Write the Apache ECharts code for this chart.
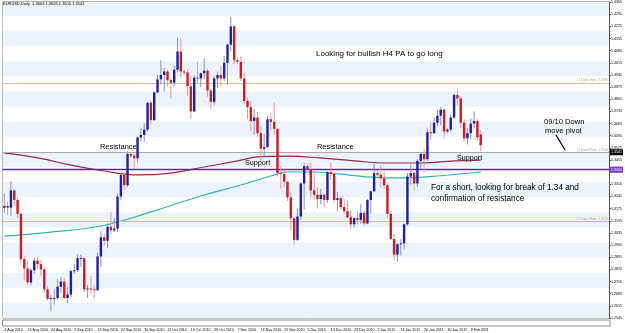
<!DOCTYPE html>
<html><head><meta charset="utf-8">
<script src="https://cdn.jsdelivr.net/npm/echarts@6/dist/echarts.min.js"></script>
<style>html,body{margin:0;padding:0;background:#fff;}#c{width:625px;height:333px;}</style>
</head><body><div id="c"></div>
<script>
// ---- data ----
const dateLabels = ['4 Aug 2010','13 Aug 2010','24 Aug 2010','2 Sep 2010','13 Sep 2010','22 Sep 2010','30 Sep 2010','11 Oct 2010','19 Oct 2010','28 Oct 2010','7 Nov 2010','16 Nov 2010','25 Nov 2010','5 Dec 2010','14 Dec 2010','23 Dec 2010','2 Jan 2011','11 Jan 2011','20 Jan 2011','30 Jan 2011','8 Feb 2011'];
const labelStep = 7;
const priceTicks = [1.2545,1.2615,1.2685,1.2755,1.2825,1.2895,1.2965,1.3035,1.3105,1.3175,1.3245,1.3315,1.3385,1.3455,1.3525,1.3595,1.3665,1.3735,1.3805,1.3875,1.3945,1.4015,1.4085,1.4155,1.4225,1.4295,1.4365];
const open  = [1.3180,1.3190,1.3180,1.3280,1.3225,1.3145,1.2885,1.2830,1.2750,1.2820,1.2875,1.2855,1.2825,1.2710,1.2655,1.2660,1.2660,1.2725,1.2755,1.2660,1.2680,1.2815,1.2820,1.2890,1.2890,1.2710,1.2715,1.2710,1.2705,1.2900,1.3010,1.2990,1.3070,1.3050,1.3060,1.3245,1.3370,1.3310,1.3490,1.3480,1.3465,1.3585,1.3600,1.3630,1.3785,1.3685,1.3845,1.3920,1.3945,1.3965,1.3915,1.3900,1.3975,1.4080,1.3965,1.3960,1.3880,1.3735,1.3930,1.3925,1.3955,1.3970,1.3855,1.3790,1.3925,1.3945,1.3925,1.4015,1.4120,1.4225,1.4030,1.4020,1.3925,1.3795,1.3760,1.3680,1.3700,1.3610,1.3520,1.3530,1.3690,1.3675,1.3635,1.3380,1.3375,1.3330,1.3240,1.3120,1.2995,1.3130,1.3320,1.3420,1.3400,1.3280,1.3255,1.3230,1.3255,1.3225,1.3385,1.3375,1.3225,1.3235,1.3185,1.3160,1.3125,1.3085,1.3120,1.3110,1.3150,1.3090,1.3225,1.3275,1.3380,1.3370,1.3350,1.3310,1.3145,1.3000,1.2910,1.2970,1.2975,1.3085,1.3360,1.3380,1.3320,1.3450,1.3490,1.3460,1.3615,1.3610,1.3670,1.3710,1.3745,1.3620,1.3630,1.3700,1.3830,1.3810,1.3670,1.3580,1.3610,1.3665,1.3680,1.3603];
const high  = [1.3260,1.3215,1.3333,1.3290,1.3240,1.3150,1.2905,1.2880,1.2830,1.2890,1.2895,1.2880,1.2840,1.2730,1.2680,1.2715,1.2770,1.2780,1.2775,1.2725,1.2825,1.2855,1.2910,1.2910,1.2890,1.2735,1.2790,1.2730,1.2920,1.3045,1.3030,1.3090,1.3155,1.3120,1.3260,1.3380,1.3385,1.3505,1.3500,1.3495,1.3590,1.3640,1.3665,1.3790,1.3795,1.3850,1.3945,1.4030,1.3985,1.3975,1.3925,1.4000,1.4160,1.4155,1.3975,1.3975,1.3940,1.3945,1.4020,1.3960,1.4040,1.3980,1.3865,1.3940,1.3965,1.4000,1.4055,1.4125,1.4281,1.4230,1.4045,1.4050,1.3960,1.3815,1.3795,1.3750,1.3730,1.3650,1.3605,1.3710,1.3725,1.3785,1.3640,1.3420,1.3400,1.3330,1.3270,1.3130,1.3175,1.3330,1.3440,1.3430,1.3440,1.3395,1.3300,1.3290,1.3260,1.3390,1.3440,1.3385,1.3270,1.3245,1.3230,1.3225,1.3165,1.3125,1.3160,1.3200,1.3165,1.3230,1.3280,1.3435,1.3395,1.3425,1.3390,1.3320,1.3160,1.3030,1.2975,1.3000,1.3090,1.3380,1.3430,1.3385,1.3460,1.3500,1.3520,1.3635,1.3670,1.3700,1.3745,1.3760,1.3755,1.3640,1.3715,1.3840,1.3862,1.3820,1.3690,1.3640,1.3695,1.3735,1.3690,1.3626];
const low   = [1.3150,1.3140,1.3130,1.3190,1.3120,1.2860,1.2760,1.2735,1.2735,1.2800,1.2830,1.2790,1.2690,1.2645,1.2588,1.2623,1.2650,1.2690,1.2655,1.2630,1.2665,1.2800,1.2810,1.2840,1.2695,1.2660,1.2685,1.2660,1.2700,1.2840,1.2960,1.2950,1.3030,1.3040,1.3040,1.3225,1.3285,1.3300,1.3470,1.3405,1.3440,1.3560,1.3560,1.3620,1.3660,1.3680,1.3840,1.3890,1.3850,1.3880,1.3810,1.3880,1.3960,1.3930,1.3945,1.3825,1.3695,1.3730,1.3900,1.3875,1.3920,1.3820,1.3745,1.3770,1.3870,1.3880,1.3910,1.3890,1.4080,1.4005,1.4010,1.3910,1.3775,1.3690,1.3620,1.3600,1.3590,1.3445,1.3475,1.3525,1.3625,1.3600,1.3360,1.3290,1.3300,1.3220,1.3050,1.2969,1.2990,1.3110,1.3170,1.3390,1.3240,1.3230,1.3175,1.3200,1.3180,1.3210,1.3340,1.3210,1.3160,1.3170,1.3145,1.3120,1.3055,1.3065,1.3085,1.3090,1.3080,1.3085,1.3145,1.3270,1.3360,1.3300,1.3290,1.3120,1.2995,1.2875,1.2867,1.2905,1.2940,1.3075,1.3310,1.3280,1.3300,1.3395,1.3385,1.3450,1.3570,1.3605,1.3650,1.3655,1.3580,1.3610,1.3620,1.3690,1.3770,1.3640,1.3560,1.3545,1.3575,1.3640,1.3570,1.3505];
const close = [1.3190,1.3180,1.3280,1.3225,1.3145,1.2885,1.2830,1.2750,1.2820,1.2875,1.2855,1.2825,1.2710,1.2655,1.2660,1.2660,1.2725,1.2755,1.2660,1.2680,1.2815,1.2820,1.2890,1.2890,1.2710,1.2715,1.2710,1.2705,1.2900,1.3010,1.2990,1.3070,1.3050,1.3060,1.3245,1.3370,1.3310,1.3490,1.3480,1.3465,1.3585,1.3600,1.3630,1.3785,1.3685,1.3845,1.3920,1.3945,1.3965,1.3915,1.3900,1.3975,1.4080,1.3965,1.3960,1.3880,1.3735,1.3930,1.3925,1.3955,1.3970,1.3855,1.3790,1.3925,1.3945,1.3925,1.4015,1.4120,1.4225,1.4030,1.4020,1.3925,1.3795,1.3760,1.3680,1.3700,1.3610,1.3520,1.3530,1.3690,1.3675,1.3635,1.3380,1.3375,1.3330,1.3240,1.3120,1.2995,1.3130,1.3320,1.3420,1.3400,1.3280,1.3255,1.3230,1.3255,1.3225,1.3385,1.3375,1.3225,1.3235,1.3185,1.3160,1.3125,1.3085,1.3120,1.3110,1.3150,1.3090,1.3225,1.3275,1.3380,1.3370,1.3350,1.3310,1.3145,1.3000,1.2910,1.2970,1.2975,1.3085,1.3360,1.3380,1.3320,1.3450,1.3490,1.3460,1.3615,1.3610,1.3670,1.3710,1.3745,1.3620,1.3630,1.3700,1.3830,1.3810,1.3670,1.3580,1.3610,1.3665,1.3680,1.3585,1.3541];
// moving averages, [bar index, price]
const slowMA = [[0,1.3496],[10,1.3467],[20,1.3426],[30,1.3392],[40,1.3369],[50,1.3380],[60,1.3415],[70,1.3450],[76,1.3473],[85,1.3478],[95,1.3467],[105,1.3450],[115,1.3438],[125,1.3438],[135,1.3450],[143,1.3455]];
const fastMA = [[0,1.3017],[14,1.3040],[29,1.3075],[44,1.3156],[59,1.3248],[71,1.3311],[80,1.3363],[85,1.3386],[92,1.3386],[100,1.3375],[110,1.3357],[120,1.3352],[130,1.3363],[143,1.3386]];
// horizontal levels
const implLevel = 1.3895, pivotLevel = 1.3500, shortLevel = 1.3125, bidLevel = 1.3541, breakLevel = 1.3400;
const titleText = 'EURUSD,Daily  1.3603 1.3626 1.3505 1.3541';

// ---- build ----
const SLOTS = 182;
const cats = Array.from({length: SLOTS}, (_, i) => String(i));
const candles = open.map((o, i) => [i, o, close[i], low[i], high[i]]);
const isLabel = (i) => i % labelStep === 0 && dateLabels[i / labelStep] !== undefined;

const chart = echarts.init(document.getElementById('c'), null, {renderer: 'canvas'});
const FONT = 'Arial, "Liberation Sans", sans-serif';
const tiny = 3.6;
const khaki = '#cfc28a';

function hline(v, color, extra) {
  return Object.assign({yAxis: v, lineStyle: {color: color, width: 1, type: 'solid'}, label: {show: false}}, extra || {});
}
function note(x, y, text, size) {
  return {type: 'text', x: x, y: y, z: 100, zlevel: 1,
    style: {text: text, fontSize: size, fontFamily: FONT, fill: '#000000', verticalAlign: 'middle', align: 'left'}};
}

chart.setOption({
  animation: false,
  backgroundColor: '#ffffff',
  grid: [
    {left: 2.6, right: 15, top: 1.9, bottom: 15, show: true, borderColor: '#8a8a8a', borderWidth: 1},
    {left: 2.6, right: 15, top: 320, height: 6, show: true, borderColor: '#8a8a8a', borderWidth: 1}
  ],
  xAxis: [
    {type: 'category', gridIndex: 0, data: cats, boundaryGap: true,
     axisLine: {show: false}, splitLine: {show: false},
     axisTick: {show: false},
     axisLabel: {interval: (i) => isLabel(i), formatter: (v, i) => isLabel(i) ? dateLabels[i / labelStep] : '',
       fontSize: tiny, color: '#000', margin: 10, align: 'left', fontFamily: FONT}},
    {type: 'category', gridIndex: 1, data: cats, boundaryGap: true, show: false}
  ],
  yAxis: [
    {type: 'value', gridIndex: 0, position: 'right', min: 1.2545, max: 1.4366, scale: true,
     axisLine: {show: true, lineStyle: {color: '#555'}},
     axisTick: {show: true, length: 2, customValues: priceTicks, lineStyle: {color: '#555'}},
     axisLabel: {show: true, customValues: priceTicks, formatter: (v) => v.toFixed(4), fontSize: tiny, color: '#000', margin: 2, fontFamily: FONT},
     splitLine: {show: false}},
    {type: 'value', gridIndex: 0, min: 0, max: 20.92, interval: 1, show: true,
     axisLine: {show: false}, axisTick: {show: false}, axisLabel: {show: false}, splitLine: {show: false},
     splitArea: {show: true, areaStyle: {color: ['#ecf3fc', '#ffffff']}}},
    {type: 'value', gridIndex: 1, show: false, min: 0, max: 1}
  ],
  series: [
    {type: 'custom', xAxisIndex: 0, yAxisIndex: 0, data: candles, encode: {x: 0, y: [1, 2, 3, 4]}, z: 5,
     renderItem: function (params, api) {
       const i = api.value(0), o = api.value(1), c = api.value(2), l = api.value(3), h = api.value(4);
       const pO = api.coord([i, o]), pC = api.coord([i, c]), pL = api.coord([i, l]), pH = api.coord([i, h]);
       const x = pO[0];
       const bull = c >= o;
       const top = Math.min(pO[1], pC[1]), bh = Math.max(Math.abs(pO[1] - pC[1]), 1);
       return {type: 'group', children: [
         {type: 'line', shape: {x1: x, y1: pH[1], x2: x, y2: pL[1]}, style: {stroke: bull ? '#8a8cc4' : '#dc9aa0', lineWidth: 1}},
         {type: 'rect', shape: {x: x - 1.2, y: top, width: 2.4, height: bh}, style: {fill: bull ? '#1f1fa0' : '#cc1b22'}}
       ]};
     },
     markLine: {symbol: 'none', silent: true, animation: false, data: [
       hline(implLevel, khaki, {label: {show: true, position: 'insideEndTop', formatter: '17 Down Impl. - ' + implLevel.toFixed(4), fontSize: 3, color: '#b8a860', distance: 1}}),
       hline(pivotLevel, khaki, {label: {show: true, position: 'insideEndTop', formatter: '17 Down Pivot - ' + pivotLevel.toFixed(4), fontSize: 3, color: '#b8a860', distance: 1}}),
       hline(shortLevel, khaki, {label: {show: true, position: 'insideEndTop', formatter: '17 Down Short - ' + shortLevel.toFixed(4), fontSize: 3, color: '#b8a860', distance: 1}}),
       hline(bidLevel, '#a9a9a9', {label: {show: true, position: 'end', formatter: bidLevel.toFixed(4), backgroundColor: '#000', color: '#fff', fontSize: tiny, padding: [1, 1], distance: 1}}),
       hline(breakLevel, '#5b2a9c', {lineStyle: {color: '#5b2a9c', width: 1.3, type: 'solid'}, label: {show: true, position: 'end', formatter: breakLevel.toFixed(4), backgroundColor: '#7d3fc8', color: '#fff', fontSize: tiny, padding: [1, 1], distance: 1}})
     ]}},
    {type: 'line', xAxisIndex: 0, yAxisIndex: 0, data: slowMA, smooth: 0.4, showSymbol: false, symbol: 'none', z: 4,
     lineStyle: {color: '#96264c', width: 1.2}},
    {type: 'line', xAxisIndex: 0, yAxisIndex: 0, data: fastMA, smooth: 0.4, showSymbol: false, symbol: 'none', z: 4,
     lineStyle: {color: '#2fb5ae', width: 1.2}}
  ],
  graphic: [
    {type: 'text', x: 3, y: 4, z: 100, zlevel: 1, style: {text: titleText, fontSize: 4, fontFamily: FONT, fill: '#000', verticalAlign: 'middle'}},
    note(316, 54, 'Looking for bullish H4 PA to go long', 8),
    note(100, 147, 'Resistance', 7.4),
    note(245, 163, 'Support', 7.2),
    note(317, 147, 'Resistance', 7.4),
    note(457, 158, 'Support', 7.2),
    note(544, 122, '09/10 Down', 7.6),
    note(545, 131, 'move pivot', 7.6),
    {type: 'line', z: 100, zlevel: 1, shape: {x1: 556, y1: 135, x2: 565, y2: 150}, style: {stroke: '#000', lineWidth: 1.3}},
    note(431, 188, 'For a short, looking for break of 1.34 and', 8.2),
    note(431, 199, 'confirmation of resistance', 8.2)
  ]
});
</script></body></html>
